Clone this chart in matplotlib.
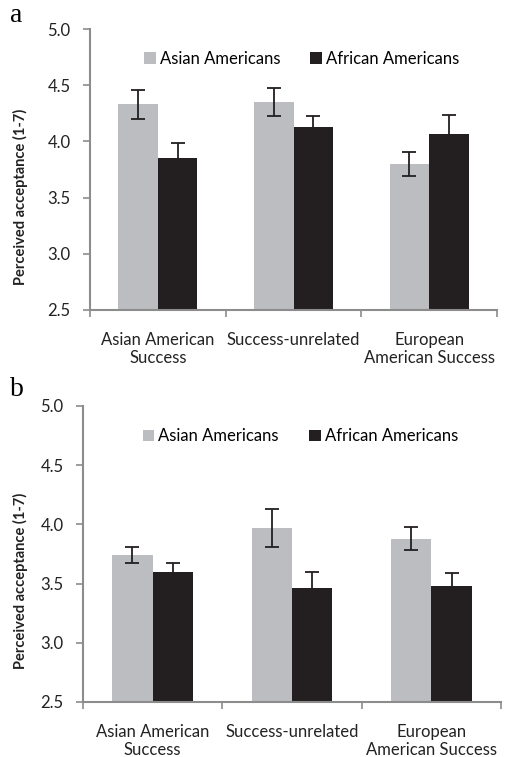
import numpy as np
import matplotlib.pyplot as plt
from matplotlib.ticker import FixedLocator, NullFormatter

plt.rcParams['font.family'] = ['Lato', 'DejaVu Sans']

conditions = ["Asian American\nSuccess", "Success-unrelated", "European\nAmerican Success"]
groups = ["Asian Americans", "African Americans"]

# study a
asian_a = [4.33, 4.35, 3.80]
asian_a_err = [0.13, 0.125, 0.105]
african_a = [3.85, 4.13, 4.07]
african_a_err = [0.14, 0.10, 0.165]

# study b
asian_b = [3.74, 3.97, 3.88]
asian_b_err = [0.07, 0.16, 0.10]
african_b = [3.60, 3.46, 3.48]
african_b_err = [0.07, 0.135, 0.11]

y_ticks = [2.5, 3.0, 3.5, 4.0, 4.5, 5.0]

GRAY = "#bcbdc0"
BLACK = "#231f20"
AXIS = "#8c8c8c"
W, H = 505, 757

fig = plt.figure(figsize=(W / 100, H / 100), dpi=100)


def panel(rect, asian, asian_err, african, african_err, letter, letter_y, label_y):
    l, t, r, b = rect
    ax = fig.add_axes([l / W, 1 - b / H, (r - l) / W, (b - t) / H])
    x = np.arange(len(conditions)) + 0.5
    bw = 0.29
    err_kw = dict(ecolor=BLACK, elinewidth=1.3, capsize=5, capthick=1.3)
    ax.bar(x - bw / 2, asian, bw, color=GRAY, label=groups[0],
           yerr=asian_err, error_kw=err_kw, zorder=2)
    ax.bar(x + bw / 2, african, bw, color=BLACK, label=groups[1],
           yerr=african_err, error_kw=err_kw, zorder=2)
    ax.set_xlim(0, 3)
    ax.set_ylim(2.5, 5.0)
    ax.set_yticks(y_ticks)
    ax.set_yticklabels([f"{v:.1f}" for v in y_ticks], fontsize=12, color="#222222")
    ax.xaxis.set_major_locator(FixedLocator([0, 1, 2, 3]))
    ax.xaxis.set_major_formatter(NullFormatter())
    ax.xaxis.set_minor_locator(FixedLocator(x))
    ax.set_xticklabels(conditions, minor=True, fontsize=12, color="#222222",
                       linespacing=1.1)
    ax.tick_params(axis="x", which="minor", length=0, pad=16)
    ax.tick_params(axis="x", which="major", length=5, color=AXIS, width=1.2)
    ax.tick_params(axis="y", length=5, color=AXIS, width=1.2, pad=9)
    for s in ["top", "right"]:
        ax.spines[s].set_visible(False)
    for s in ["left", "bottom"]:
        ax.spines[s].set_color(AXIS)
        ax.spines[s].set_linewidth(1.5)
    ax.legend(loc="upper center", bbox_to_anchor=(0.52, 0.975), ncol=2,
              frameon=False, fontsize=12, handlelength=0.7, handleheight=0.7,
              handletextpad=0.25, columnspacing=1.8)
    fig.text(20 / W, 1 - label_y / H, "Perceived acceptance (1-7)", rotation=90,
             fontsize=10.5, fontweight="bold", ha="center", va="center",
             color="#222222")
    fig.text(10 / W, 1 - letter_y / H, letter, fontsize=20, family="Liberation Serif",
             ha="left", va="center")
    return ax


panel((90, 29, 497, 310), asian_a, asian_a_err, african_a, african_a_err, "a", 16, 197)
panel((83, 406, 501, 702), asian_b, asian_b_err, african_b, african_b_err, "b", 390, 581)

fig.savefig("out.png", dpi=100)
